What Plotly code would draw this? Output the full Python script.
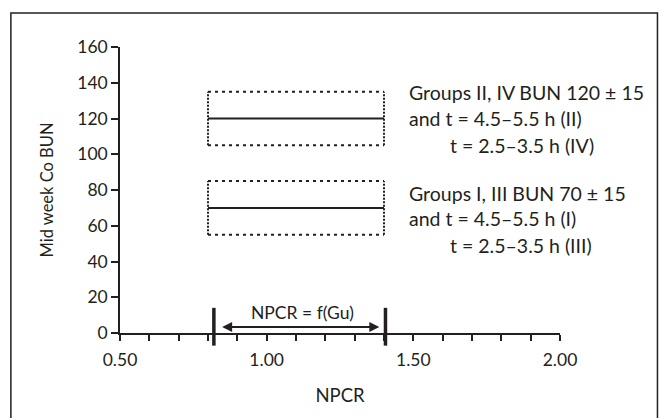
import plotly.graph_objects as go

# ---- data ----
box_x_start = [0.80, 0.80]
box_x_end = [1.40, 1.40]
box_center = [120, 70]
box_half = [15, 15]

range_markers_x = [0.82, 1.405]
range_marker_y = [3.5, 3.5]
arrow_x = [0.843, 1.384]
arrow_y = 3.4
range_label = "NPCR = f(Gu)"
range_label_pos = (1.123, 11.2)

group_lines = [
    "Groups II, IV BUN 120 ± 15",
    "and t = 4.5–5.5 h (II)",
    "t = 2.5–3.5 h (IV)",
    "Groups I, III BUN 70 ± 15",
    "and t = 4.5–5.5 h (I)",
    "t = 2.5–3.5 h (III)",
]
group_line_x = [1.478, 1.478, 1.617, 1.478, 1.478, 1.617]
group_line_y = [134.3, 120.0, 105.0, 78.3, 64.0, 49.0]

x_ticks = [0.5, 1.0, 1.5, 2.0]
x_tick_labels = ["0.50", "1.00", "1.50", "2.00"]
y_ticks = [0, 20, 40, 60, 80, 100, 120, 140, 160]

INK = "#231f20"
FONT = "Lato"

fig = go.Figure()

shapes = []
for x0, x1, c, h in zip(box_x_start, box_x_end, box_center, box_half):
    # dotted box edges
    for ya in (c - h, c + h):
        shapes.append(dict(type="line", xref="x", yref="y", x0=x0, x1=x1, y0=ya, y1=ya,
                           line=dict(color=INK, width=2, dash="3px,4px")))
    for xa in (x0, x1):
        shapes.append(dict(type="line", xref="x", yref="y", x0=xa, x1=xa, y0=c - h, y1=c + h,
                           line=dict(color=INK, width=2, dash="2px,1.5px")))
    # solid centre line
    shapes.append(dict(type="line", xref="x", yref="y", x0=x0, x1=x1, y0=c, y1=c,
                       line=dict(color=INK, width=2)))

# outer frame
shapes.append(dict(type="rect", xref="paper", yref="paper", x0=-0.248, x1=1.2215,
                   y0=-0.4, y1=1.1185, line=dict(color=INK, width=1.5)))

fig.add_trace(go.Scatter(
    x=range_markers_x, y=range_marker_y, mode="markers", cliponaxis=False,
    marker=dict(symbol="line-ns", size=27, line=dict(color=INK, width=3.5)),
    showlegend=False, hoverinfo="skip"))

annotations = []
annotations.append(dict(x=arrow_x[1], y=arrow_y, ax=arrow_x[0], ay=arrow_y,
                        xref="x", yref="y", axref="x", ayref="y", text="",
                        showarrow=True, arrowside="end+start", arrowhead=2,
                        arrowsize=1, arrowwidth=2, arrowcolor=INK))
annotations.append(dict(x=range_label_pos[0], y=range_label_pos[1], xref="x", yref="y",
                        text=range_label, showarrow=False, xanchor="center", yanchor="middle",
                        font=dict(family=FONT, size=17.5, color=INK)))
for t, gx, gy in zip(group_lines, group_line_x, group_line_y):
    annotations.append(dict(x=gx, y=gy, xref="x", yref="y", text=t, showarrow=False,
                            xanchor="left", yanchor="middle",
                            font=dict(family=FONT, size=19.5, color=INK)))

fig.update_layout(
    width=663, height=418,
    margin=dict(l=119.7, r=103, t=46.6, b=85.3),
    paper_bgcolor="white", plot_bgcolor="white",
    shapes=shapes, annotations=annotations,
    font=dict(family=FONT, size=17, color=INK),
    showlegend=False,
    xaxis=dict(range=[0.5, 2.0], tickvals=x_ticks, ticktext=x_tick_labels,
               showgrid=False, zeroline=False, showline=True, linecolor=INK, linewidth=1.5,
               ticks="outside", ticklen=6, tickwidth=1.5, tickcolor=INK,
               ticklabelstandoff=4,
               minor=dict(dtick=0.1, ticks="outside", ticklen=6, tickwidth=1.5, tickcolor=INK,
                          showgrid=False),
               title=dict(text="NPCR", standoff=20, font=dict(family=FONT, size=18.5, color=INK)),
               tickfont=dict(family=FONT, size=17.5, color=INK)),
    yaxis=dict(range=[0, 160], tickvals=y_ticks, showgrid=False, zeroline=False,
               showline=True, linecolor=INK, linewidth=1.5,
               ticks="outside", ticklen=7, tickwidth=1.5, tickcolor=INK,
               title=dict(text="Mid week Co BUN", standoff=20,
                          font=dict(family=FONT, size=16.5, color=INK)),
               tickfont=dict(family=FONT, size=17.5, color=INK)),
)

fig.write_html("out.html")
